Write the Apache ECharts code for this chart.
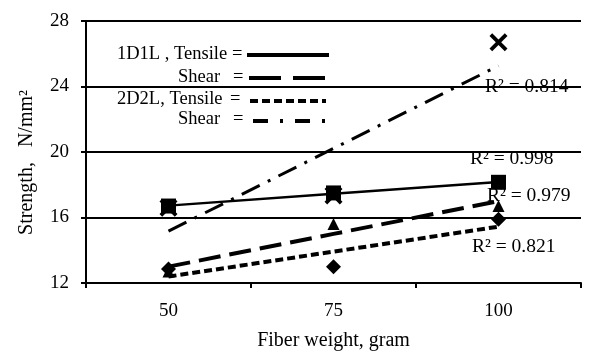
<!DOCTYPE html>
<html>
<head>
<meta charset="utf-8">
<script src="https://cdn.jsdelivr.net/npm/echarts@6/dist/echarts.min.js"></script>
<style>
  html, body { margin: 0; padding: 0; background: #fff; }
  #chart { width: 603px; height: 356px; }
</style>
</head>
<body>
<div id="chart"></div>
<script>
const weights = ['50', '75', '100'];
const tensile1 = [16.7, 17.5, 18.15];   // 1D1L tensile (squares)
const shear1 = [12.7, 15.6, 16.7];      // 1D1L shear (triangles)
const tensile2 = [12.85, 13.0, 15.9];   // 2D2L tensile (diamonds)
const shear2 = [16.6, 17.35, 26.7];     // 2D2L shear (crosses)
const r2Text = ['R² = 0.998', 'R² = 0.979', 'R² = 0.821', 'R² = 0.814'];

const FONT = '"Liberation Serif", "Times New Roman", serif';
const crossPath = 'path://M0,3 L3,0 L10,7 L17,0 L20,3 L13,10 L20,17 L17,20 L10,13 L3,20 L0,17 L7,10 Z';

// least squares linear trend over category index
let trend = (v) => {
  const n = v.length;
  let sx = 0, sy = 0, sxy = 0, sxx = 0;
  v.forEach((y, i) => { sx += i; sy += y; sxy += i * y; sxx += i * i; });
  const b = (n * sxy - sx * sy) / (n * sxx - sx * sx);
  const a = (sy - b * sx) / n;
  return v.map((y, i) => +(a + b * i).toFixed(3));
};

const chart = echarts.init(document.getElementById('chart'));

let lineSeries = (data, width, type) => ({
  type: 'line',
  data: trend(data),
  symbol: 'none',
  silent: true,
  z: 2,
  lineStyle: { color: '#000', width: width, type: type }
});

let pointSeries = (data, symbol, size) => ({
  type: 'scatter',
  data: data,
  symbol: symbol,
  symbolSize: size,
  z: 3,
  itemStyle: { color: '#000', opacity: 1 }
});

let legendText = (txt, x, y) => ({
  type: 'text', left: x, top: y,
  style: { text: txt, font: '18.5px ' + FONT, fill: '#000' }
});

let legendLine = (x1, x2, y, width, dash) => ({
  type: 'line',
  shape: { x1: x1, y1: y, x2: x2, y2: y },
  style: { stroke: '#000', lineWidth: width, lineDash: dash }
});

let r2Label = (txt, x, y) => ({
  type: 'text', left: x, top: y,
  style: { text: txt, font: '19.5px ' + FONT, fill: '#000' }
});

const option = {
  backgroundColor: '#fff',
  animation: false,
  grid: { left: 86, right: 22, top: 21, bottom: 72 },
  xAxis: {
    type: 'category',
    data: weights,
    boundaryGap: true,
    name: 'Fiber weight, gram',
    nameLocation: 'middle',
    nameGap: 48,
    nameTextStyle: { fontFamily: FONT, fontSize: 20, color: '#000' },
    axisLine: { lineStyle: { color: '#000', width: 2 } },
    axisTick: { show: true, length: 5, lineStyle: { color: '#000', width: 2 } },
    axisLabel: { fontFamily: FONT, fontSize: 19, color: '#000', margin: 19 },
    splitLine: { show: false }
  },
  yAxis: {
    type: 'value',
    min: 12,
    max: 28,
    interval: 4,
    axisLine: { show: true, lineStyle: { color: '#000', width: 2 } },
    axisTick: { show: true, length: 5, lineStyle: { color: '#000', width: 2 } },
    axisLabel: { fontFamily: FONT, fontSize: 19, color: '#000', margin: 17 },
    splitLine: { show: true, lineStyle: { color: '#000', width: 2 } }
  },
  series: [
    lineSeries(tensile1, 2.5, 'solid'),
    lineSeries(shear1, 4, [22, 9]),
    lineSeries(tensile2, 4, [8, 4]),
    lineSeries(shear2, 3, [20, 9, 3, 9]),
    pointSeries(shear2, crossPath, 18),
    pointSeries(tensile2, 'diamond', 15),
    pointSeries(shear1, 'triangle', 12),
    pointSeries(tensile1, 'rect', 15)
  ],
  graphic: [
    {
      type: 'text', left: 17, top: 90,
      rotation: Math.PI / 2,
      style: { text: 'Strength,   N/mm²', font: '20px ' + FONT, fill: '#000' }
    },
    legendText('1D1L , Tensile', 117, 45),
    legendText('=', 232, 45),
    legendLine(247, 329, 55, 4, null),
    legendText('Shear', 178, 68),
    legendText('=', 233, 68),
    legendLine(249, 325, 78, 4, [32, 12]),
    legendText('2D2L, Tensile', 117, 90),
    legendText('=', 230, 90),
    legendLine(250, 326, 101, 4, [8, 4]),
    legendText('Shear', 178, 110),
    legendText('=', 233, 110),
    legendLine(253, 328, 121, 4, [15, 12, 3, 12]),
    r2Label(r2Text[3], 485, 77),
    r2Label(r2Text[0], 470, 149),
    r2Label(r2Text[1], 487, 186),
    r2Label(r2Text[2], 472, 237)
  ]
};

chart.setOption(option);
</script>
</body>
</html>
